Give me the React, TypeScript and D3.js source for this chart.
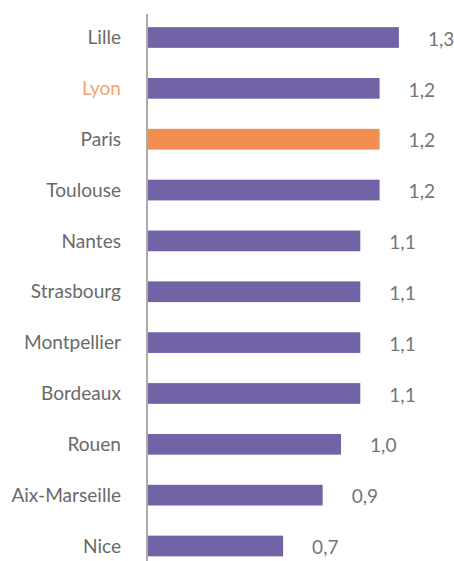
import React from "react";
import * as d3 from "d3";

const cities = ["Lille", "Lyon", "Paris", "Toulouse", "Nantes", "Strasbourg", "Montpellier", "Bordeaux", "Rouen", "Aix-Marseille", "Nice"];
const values = [1.3, 1.2, 1.2, 1.2, 1.1, 1.1, 1.1, 1.1, 1.0, 0.905, 0.7];
const highlightBar = "Paris";
const highlightLabel = "Lyon";

const W = 454;
const H = 561;

export default function App() {
  const x = d3.scaleLinear().domain([0, 1]).range([148, 341]);
  const y = d3.scalePoint<string>().domain(cities).range([37.5, 546]);
  const bh = 20.7;
  const fmt = (v: number) => v.toFixed(1).replace(".", ",");
  return (
    <svg width={W} height={H} style={{ position: "absolute", left: 0, top: 0 }} fontFamily="Lato">
      {cities.map((c, i) => (
        <g key={c}>
          <rect
            x={x(0)}
            y={(y(c) as number) - bh / 2}
            width={x(values[i]) - x(0)}
            height={bh}
            fill={c === highlightBar ? "#F28E52" : "#7163A6"}
          />
          <text
            x={121}
            y={y(c) as number}
            dy="0.35em"
            textAnchor="end"
            fontSize={19.1}
            fill={c === highlightLabel ? "#F5A473" : "#6a6a6a"}
          >
            {c}
          </text>
          <text x={x(values[i]) + 29} y={(y(c) as number) + 1.5} dy="0.35em" fontSize={19.1} fill="#767676">
            {fmt(values[i])}
          </text>
        </g>
      ))}
      <line x1={147} x2={147} y1={14} y2={561} stroke="#7f7f7f" strokeWidth={1.3} />
    </svg>
  );
}
